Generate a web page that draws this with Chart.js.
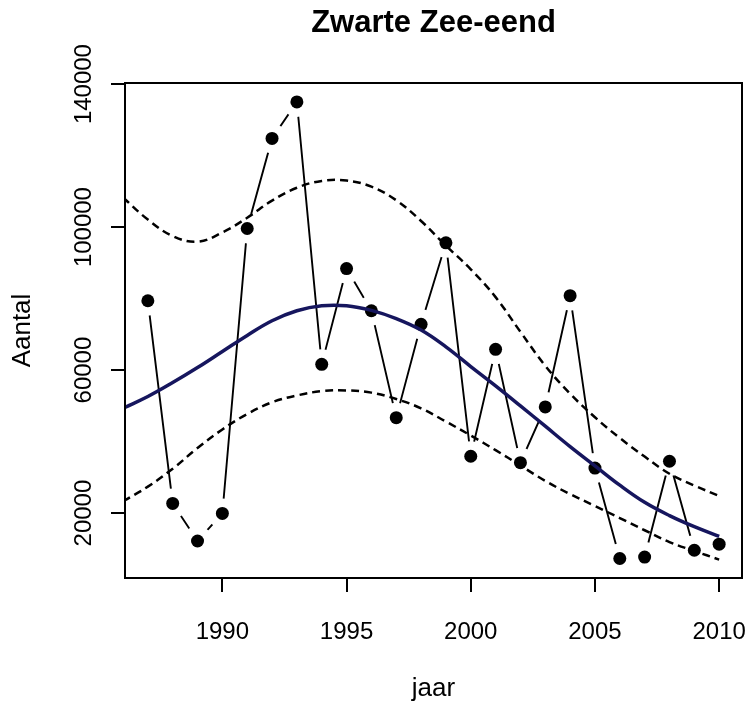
<!DOCTYPE html>
<html>
<head>
<meta charset="utf-8">
<title>Zwarte Zee-eend</title>
<script src="https://cdn.jsdelivr.net/npm/chart.js@4.4.1/dist/chart.umd.min.js"></script>
<style>
  html, body { margin: 0; padding: 0; background: #fff; }
  #wrap { width: 750px; height: 706px; }
</style>
</head>
<body>
<div id="wrap"><canvas id="chart" width="750" height="706"></canvas></div>
<script>
// getelde aantallen per jaar
const obsYears = [1987, 1988, 1989, 1990, 1991, 1992, 1993, 1994, 1995, 1996, 1997, 1998,
                  1999, 2000, 2001, 2002, 2003, 2004, 2005, 2006, 2007, 2008, 2009, 2010];
const obsCounts = [79400, 22700, 12200, 19900, 99600, 124800, 135000, 61600, 88400, 76600, 46700, 72800,
                   95600, 35900, 65800, 34100, 49700, 80800, 32600, 7300, 7700, 34500, 9600, 11300];

// trendlijn met betrouwbaarheidsband
const fitYears = [1986, 1987, 1988, 1989, 1990, 1991, 1992, 1993, 1994, 1995, 1996, 1997, 1998,
                  1999, 2000, 2001, 2002, 2003, 2004, 2005, 2006, 2007, 2008, 2009, 2010];
const fitMean  = [49300, 52600, 56500, 60700, 65200, 69700, 73800, 76600, 78000, 78000, 76700, 74400, 71200,
                  66500, 61000, 55600, 50000, 44300, 38600, 33200, 27800, 23000, 19300, 16200, 13500];
const fitUpper = [108300, 102100, 97500, 95900, 98500, 102600, 107400, 111000, 112900, 113000, 111300, 107500, 101700,
                  94800, 88200, 80400, 70700, 61200, 53400, 46800, 41000, 35800, 31000, 27700, 24800];
const fitLower = [23300, 27400, 32400, 38200, 43400, 47700, 51000, 52900, 54100, 54300, 53700, 51900, 49300,
                  45600, 41700, 37600, 33300, 29000, 25300, 22000, 18600, 15200, 11900, 9400, 7000];

// assen
const xTicks = [1990, 1995, 2000, 2005, 2010];
const yTicks = [20000, 40000, 60000, 80000, 100000, 120000, 140000];
const yLabels = [20000, 60000, 100000, 140000];

const FONT = "'Liberation Sans', Arial, Helvetica, sans-serif";
const TICK_SIZE = 24;

function toPoints(xs, ys) {
    return xs.map((x, i) => ({ x: x, y: ys[i] }));
}

// breedte van het langste y-label, om de gedraaide labels te centreren
function widestLabel() {
    const ctx = document.createElement('canvas').getContext('2d');
    ctx.font = 'normal ' + TICK_SIZE + 'px ' + FONT;
    return Math.max(...yLabels.map(v => ctx.measureText(String(v)).width));
}

// kader rond het plotgebied (zoals box() in R)
const plotBox = {
    id: 'plotBox',
    afterDatasetsDraw(chart) {
        const { ctx, chartArea: a } = chart;
        ctx.save();
        ctx.strokeStyle = '#000';
        ctx.lineWidth = 2;
        ctx.strokeRect(a.left, a.top, a.right - a.left, a.bottom - a.top);
        ctx.restore();
    }
};

const tickGrid = {
    drawOnChartArea: false,
    drawTicks: true,
    tickLength: 14,
    color: '#000',
    lineWidth: 2
};

function noOverhang(scale) {
    scale.paddingLeft = 0;
    scale.paddingRight = 0;
    scale.paddingTop = 0;
    scale.paddingBottom = 0;
}

const ctx = document.getElementById('chart').getContext('2d');
new Chart(ctx, {
    type: 'line',
    data: {
        datasets: [
            {
                label: 'trend',
                data: toPoints(fitYears, fitMean),
                borderColor: '#16165e',
                borderWidth: 3.5,
                pointRadius: 0,
                tension: 0.4,
                order: 1
            },
            {
                label: 'bovengrens',
                data: toPoints(fitYears, fitUpper),
                borderColor: '#000',
                borderWidth: 2.5,
                borderDash: [8, 5],
                pointRadius: 0,
                tension: 0.4,
                order: 2
            },
            {
                label: 'ondergrens',
                data: toPoints(fitYears, fitLower),
                borderColor: '#000',
                borderWidth: 2.5,
                borderDash: [8, 5],
                pointRadius: 0,
                tension: 0.4,
                order: 2
            },
            {
                label: 'tellingen',
                data: toPoints(obsYears, obsCounts),
                showLine: false,
                pointRadius: 6.5,
                pointBackgroundColor: '#000',
                pointBorderWidth: 0,
                order: 3
            },
            {
                // witte ruimte rond de punten (type = "b")
                label: 'gat',
                data: toPoints(obsYears, obsCounts),
                showLine: false,
                pointRadius: 15,
                pointBackgroundColor: '#fff',
                pointBorderWidth: 0,
                order: 4
            },
            {
                label: 'verbinding',
                data: toPoints(obsYears, obsCounts),
                borderColor: '#000',
                borderWidth: 1.9,
                pointRadius: 0,
                tension: 0,
                order: 5
            }
        ]
    },
    options: {
        responsive: false,
        animation: false,
        events: [],
        layout: { autoPadding: false, padding: { left: 0, right: 8, top: 0, bottom: 0 } },
        plugins: {
            legend: { display: false },
            tooltip: { enabled: false },
            title: { display: false }
        },
        scales: {
            x: {
                type: 'linear',
                position: 'bottom',
                min: 1986.08,
                max: 2010.92,
                afterBuildTicks: (scale) => { scale.ticks = xTicks.map(v => ({ value: v })); },
                afterFit: (scale) => { scale.height = 128; noOverhang(scale); },
                ticks: {
                    color: '#000',
                    padding: 26,
                    maxRotation: 0,
                    font: { family: FONT, size: TICK_SIZE },
                    callback: (v) => String(v)
                },
                grid: tickGrid,
                border: { display: false },
                title: {
                    display: true,
                    text: 'jaar',
                    color: '#000',
                    font: { family: FONT, size: 26 },
                    padding: { top: 0, bottom: 2 }
                }
            },
            x2: {
                type: 'linear',
                position: 'top',
                min: 1986.08,
                max: 2010.92,
                afterFit: (scale) => { scale.height = 83; noOverhang(scale); },
                ticks: { display: false },
                grid: { display: false },
                border: { display: false },
                title: {
                    display: true,
                    text: 'Zwarte Zee-eend',
                    color: '#000',
                    font: { family: FONT, size: 31, weight: 'bold' },
                    padding: { top: 5, bottom: 0 }
                }
            },
            y: {
                type: 'linear',
                position: 'left',
                min: 1844,
                max: 140300,
                afterBuildTicks: (scale) => { scale.ticks = yTicks.map(v => ({ value: v })); },
                afterFit: (scale) => { scale.width = 125; noOverhang(scale); },
                ticks: {
                    color: '#000',
                    minRotation: 90,
                    maxRotation: 90,
                    crossAlign: 'center',
                    padding: 27 - widestLabel() / 2,
                    font: { family: FONT, size: TICK_SIZE },
                    callback: (v) => yLabels.includes(v) ? String(v) : ''
                },
                grid: tickGrid,
                border: { display: false },
                title: {
                    display: true,
                    text: 'Aantal',
                    color: '#000',
                    font: { family: FONT, size: 26 },
                    padding: { top: 7, bottom: 0 }
                }
            }
        }
    },
    plugins: [plotBox]
});
</script>
</body>
</html>
